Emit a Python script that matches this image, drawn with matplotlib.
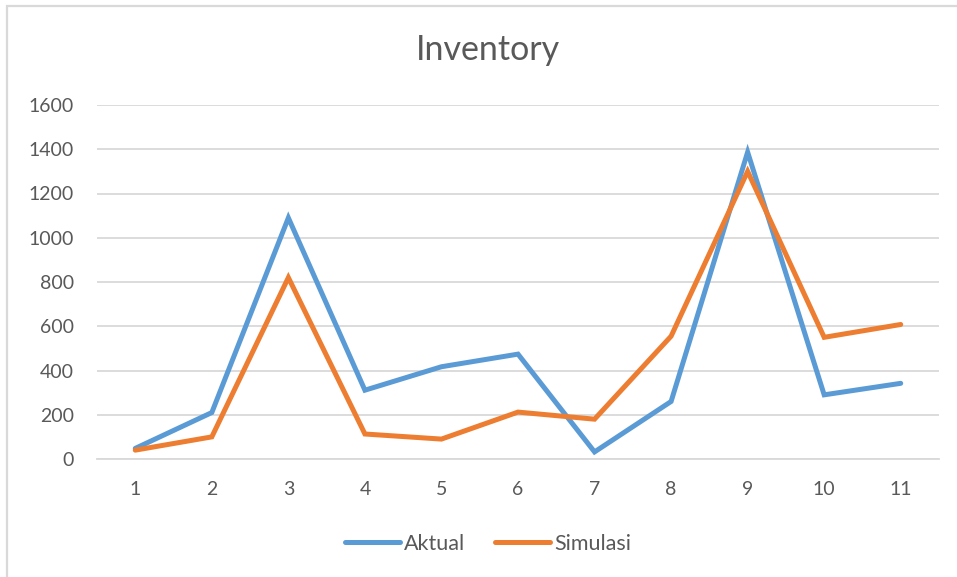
import matplotlib.pyplot as plt
from matplotlib.patches import Rectangle

periode = [1, 2, 3, 4, 5, 6, 7, 8, 9, 10, 11]
aktual = [48, 210, 1090, 311, 417, 474, 32, 260, 1387, 290, 342]
simulasi = [40, 100, 820, 113, 90, 212, 180, 555, 1300, 550, 608]
y_ticks = [0, 200, 400, 600, 800, 1000, 1200, 1400, 1600]

TEXT = '#595959'
GRID = '#D9D9D9'

plt.rcParams['font.family'] = ['Lato', 'DejaVu Sans']

fig = plt.figure(figsize=(9.57, 5.77), dpi=100)
ax = fig.add_axes([97 / 957, 1 - 459 / 577, 842 / 957, 354 / 577])

ax.plot(periode, aktual, color='#5B9BD5', linewidth=3.6, label='Aktual',
        solid_joinstyle='miter', solid_capstyle='round')
ax.plot(periode, simulasi, color='#ED7D31', linewidth=3.6, label='Simulasi',
        solid_joinstyle='miter', solid_capstyle='round')

ax.set_xlim(0.5, 11.5)
ax.set_ylim(0, 1600)
ax.set_yticks(y_ticks)
ax.set_xticks(periode)
ax.grid(True, axis='y', color=GRID, linewidth=1.3)
ax.set_axisbelow(True)
for side in ['top', 'right', 'left']:
    ax.spines[side].set_visible(False)
ax.spines['bottom'].set_color(GRID)
ax.spines['bottom'].set_linewidth(1.3)
ax.tick_params(length=0, labelsize=14, labelcolor=TEXT)
ax.tick_params(axis='y', pad=16.5)
ax.tick_params(axis='x', pad=15.5)

fig.text(488 / 957, 1 - 50 / 577, 'Inventory', ha='center', va='center',
         fontsize=24.5, color=TEXT)

leg = fig.legend(loc='center', bbox_to_anchor=(488 / 957, 1 - 544 / 577),
                 ncol=2, frameon=False, fontsize=15.5, handlelength=2.55,
                 handletextpad=0.2, columnspacing=1.4)
for t in leg.get_texts():
    t.set_color(TEXT)

# outer chart frame, only top and left edges fall inside the image
fig.patches.append(Rectangle((7.5 / 957, -0.1), 1.2, 1.1 - 5.5 / 577,
                             transform=fig.transFigure, fill=False,
                             edgecolor=GRID, linewidth=1.6))

fig.savefig('out.png', dpi=100)
